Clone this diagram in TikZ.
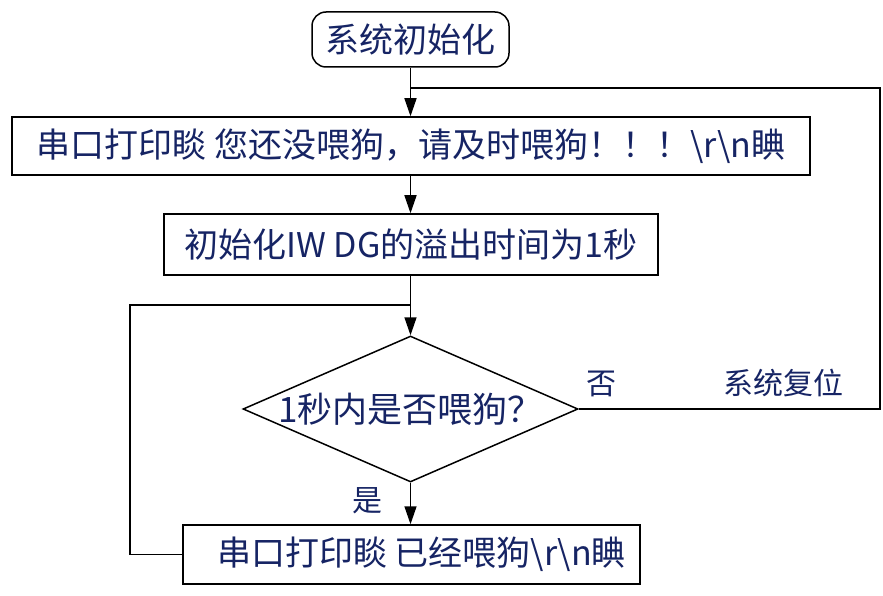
\documentclass[tikz,border=0pt]{standalone}
\usepackage{fontspec}
\setmainfont{Noto Sans CJK SC}
\usetikzlibrary{arrows.meta,shapes.geometric}
\definecolor{txt}{RGB}{22,36,100}
\begin{document}
\begin{tikzpicture}[x=1pt,y=-1pt,
  every node/.style={text=txt,font=\fontsize{34}{40}\selectfont},
  box/.style={draw=black,line width=1.5pt,inner sep=0pt},
  flow/.style={draw=black,line width=1.5pt},
  arr/.style={flow,-{Triangle[length=18pt,width=12pt]}},
  lbl/.style={font=\fontsize{30}{36}\selectfont}]
\useasboundingbox (0,0) rectangle (883,596);
\node[box,rounded corners=14pt,minimum width=197pt,minimum height=55pt] (start) at (410.5,39.5) {系统初始化};
\node[box,minimum width=798pt,minimum height=58pt] (b1) at (411,146) {串口打印睒 您还没喂狗，请及时喂狗！！！\textbackslash r\textbackslash n睓};
\node[box,minimum width=494pt,minimum height=61pt] (b2) at (411,244.5) {初始化IW DG的溢出时间为1秒};
\node[draw=black,line width=1.5pt,diamond,minimum width=335pt,minimum height=146pt,inner sep=0pt] (dia) at (410.5,409) {};
\node[font=\fontsize{35}{40}\selectfont] (diat) at (410.5,409) {1秒内是否喂狗？};
\node[box,minimum width=457pt,minimum height=59pt] (b3) at (411.5,554.5) {\hspace{20pt}串口打印睒 已经喂狗\textbackslash r\textbackslash n睓};
\node[lbl] (no) at (601,384) {否};
\node[lbl] (reset) at (783,383) {系统复位};
\node[lbl] (yes) at (367,501) {是};
\coordinate (j1) at (410.5,88);
\coordinate (j2) at (410.5,305);
\coordinate (r1) at (880,409);
\coordinate (r2) at (880,88);
\coordinate (l1) at (130,554.5);
\coordinate (l2) at (130,305);
\draw[arr] (start.south) -- (b1.north -| start.south);
\draw[arr] (b1.south -| start.south) -- (b2.north -| start.south);
\draw[arr] (b2.south -| dia.north) -- (dia.north);
\draw[arr] (dia.south) -- (b3.north -| dia.south);
\draw[flow] (dia.east) -- (r1) -- (r2) -- (j1);
\draw[flow] (b3.west) -- (l1) -- (l2) -- (j2);
\end{tikzpicture}
\end{document}
